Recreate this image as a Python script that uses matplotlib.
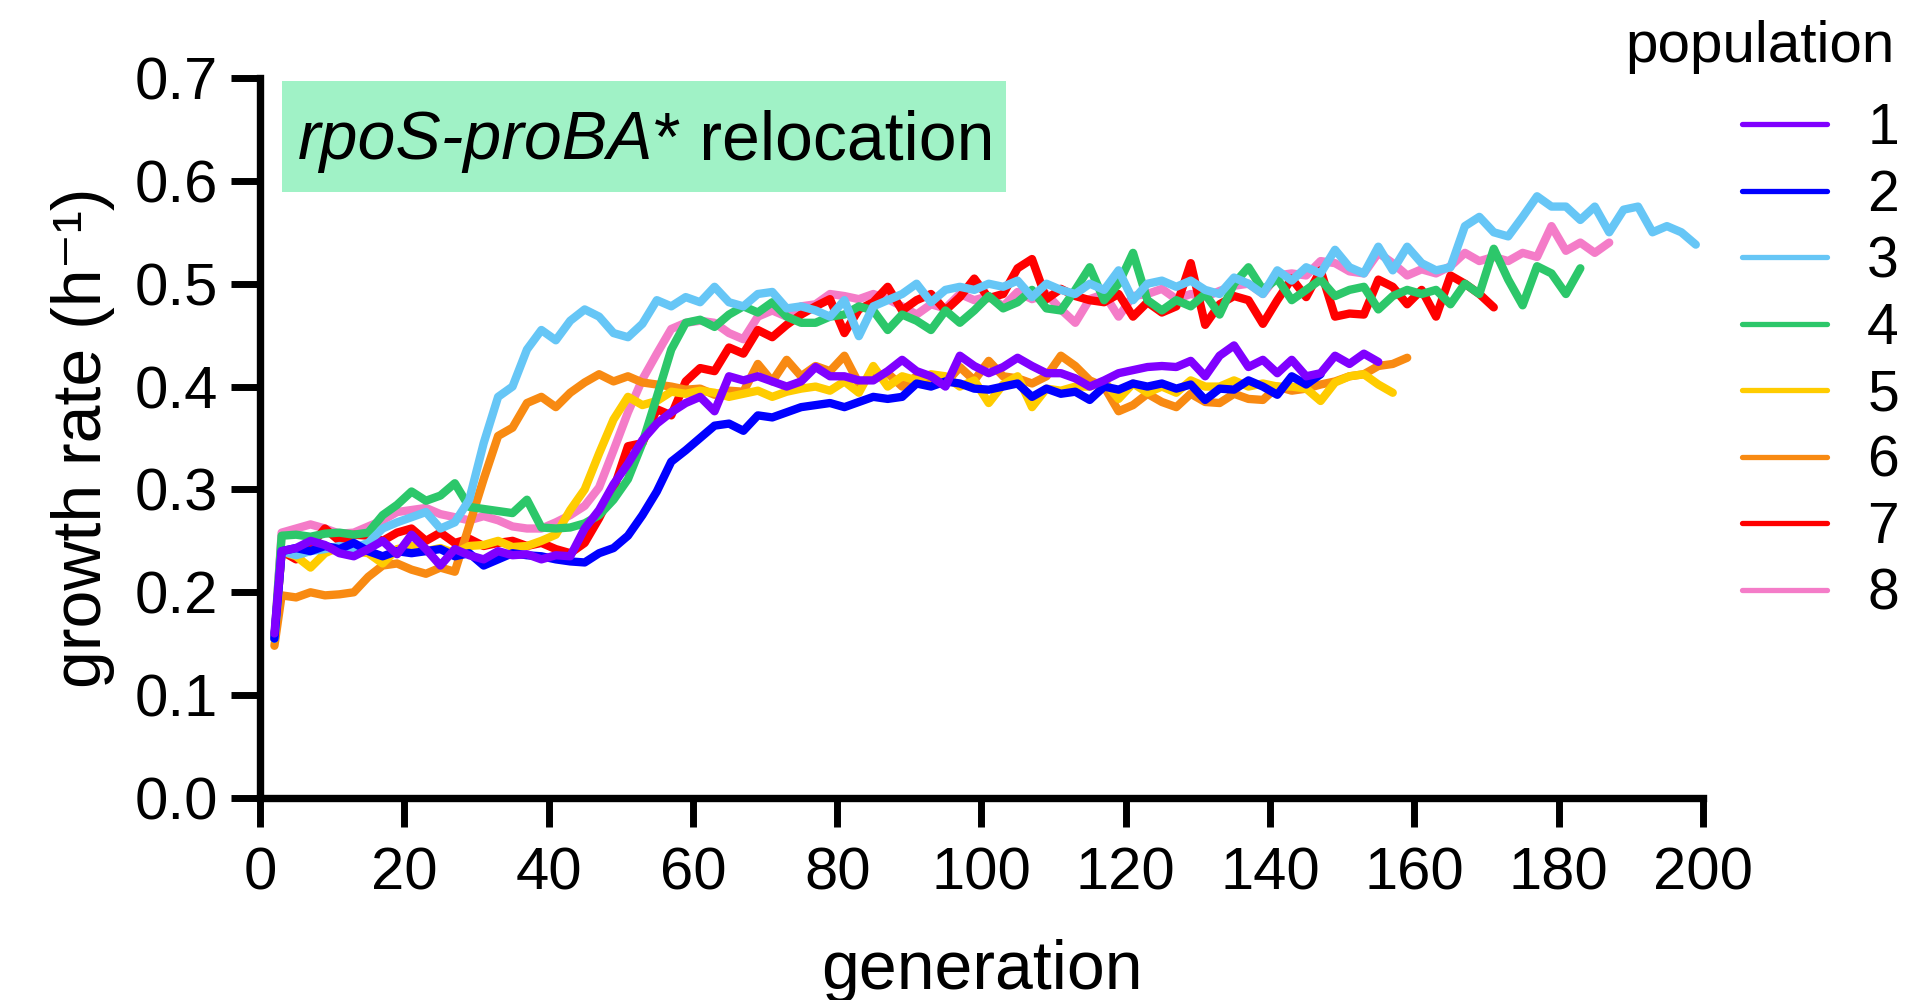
import matplotlib
matplotlib.use("Agg")
import matplotlib.pyplot as plt
from matplotlib.lines import Line2D
from matplotlib.patches import Rectangle
from matplotlib.text import Annotation

plt.rcParams['font.family'] = ['Liberation Sans', 'DejaVu Sans']
plt.rcParams['mathtext.default'] = 'regular'

# generation grid (shared by all populations)
GEN = [2, 3, 5, 7, 9, 11, 13, 15, 17, 19,
       21, 23, 25, 27, 29, 31, 33, 35, 37, 39,
       41, 43, 45, 47, 49, 51, 53, 55, 57, 59,
       61, 63, 65, 67, 69, 71, 73, 75, 77, 79,
       81, 83, 85, 87, 89, 91, 93, 95, 97, 99,
       101, 103, 105, 107, 109, 111, 113, 115, 117, 119,
       121, 123, 125, 127, 129, 131, 133, 135, 137, 139,
       141, 143, 145, 147, 149, 151, 153, 155, 157, 159,
       161, 163, 165, 167, 169, 171, 173, 175, 177, 179,
       181, 183, 185, 187, 189, 191, 193, 195, 197, 199]

LABELS = ['1', '2', '3', '4', '5', '6', '7', '8']
COLORS = ['#8000FF', '#0000FF', '#66C6F6', '#2CC76A',
          '#FFCC00', '#F88A12', '#FF0000', '#F47CC8']

pop1 = [0.160, 0.240, 0.243, 0.250, 0.246, 0.238, 0.235, 0.242, 0.250, 0.237,
        0.256, 0.242, 0.226, 0.242, 0.236, 0.232, 0.240, 0.236, 0.237, 0.232,
        0.236, 0.235, 0.262, 0.280, 0.305, 0.325, 0.348, 0.364, 0.375, 0.384,
        0.390, 0.376, 0.410, 0.406, 0.410, 0.405, 0.400, 0.405, 0.419, 0.410,
        0.410, 0.406, 0.406, 0.415, 0.426, 0.415, 0.410, 0.400, 0.430, 0.420,
        0.413, 0.419, 0.428, 0.420, 0.413, 0.413, 0.408, 0.400, 0.406, 0.413,
        0.416, 0.419, 0.420, 0.419, 0.425, 0.410, 0.430, 0.440, 0.419, 0.426,
        0.413, 0.426, 0.410, 0.413, 0.430, 0.422, 0.432, 0.424]

pop2 = [0.155, 0.240, 0.243, 0.240, 0.245, 0.242, 0.248, 0.240, 0.235, 0.240,
        0.238, 0.240, 0.242, 0.235, 0.238, 0.226, 0.232, 0.238, 0.236, 0.235,
        0.232, 0.230, 0.229, 0.238, 0.243, 0.255, 0.275, 0.298, 0.327, 0.338,
        0.350, 0.362, 0.364, 0.357, 0.372, 0.370, 0.375, 0.380, 0.382, 0.384,
        0.380, 0.385, 0.390, 0.388, 0.390, 0.403, 0.400, 0.405, 0.403, 0.398,
        0.397, 0.400, 0.403, 0.390, 0.398, 0.393, 0.395, 0.387, 0.400, 0.397,
        0.403, 0.400, 0.403, 0.398, 0.402, 0.387, 0.398, 0.397, 0.406, 0.400,
        0.392, 0.410, 0.402, 0.412]

pop3 = [0.155, 0.240, 0.236, 0.240, 0.242, 0.245, 0.243, 0.248, 0.262, 0.268,
        0.273, 0.278, 0.262, 0.268, 0.290, 0.345, 0.390, 0.400, 0.436, 0.455,
        0.445, 0.464, 0.475, 0.468, 0.452, 0.448, 0.461, 0.484, 0.478, 0.487,
        0.482, 0.497, 0.482, 0.478, 0.490, 0.492, 0.476, 0.478, 0.474, 0.468,
        0.484, 0.449, 0.478, 0.484, 0.490, 0.500, 0.482, 0.494, 0.497, 0.494,
        0.500, 0.497, 0.503, 0.487, 0.500, 0.494, 0.490, 0.500, 0.494, 0.513,
        0.484, 0.500, 0.503, 0.497, 0.503, 0.494, 0.490, 0.506, 0.500, 0.490,
        0.513, 0.503, 0.516, 0.510, 0.533, 0.516, 0.510, 0.536, 0.513, 0.536,
        0.520, 0.513, 0.516, 0.556, 0.565, 0.550, 0.546, 0.565, 0.585, 0.575,
        0.575, 0.562, 0.575, 0.550, 0.572, 0.575, 0.550, 0.556, 0.550, 0.538]

pop4 = [0.155, 0.255, 0.256, 0.254, 0.257, 0.258, 0.256, 0.258, 0.275, 0.285,
        0.298, 0.289, 0.294, 0.306, 0.283, 0.281, 0.279, 0.277, 0.290, 0.263,
        0.262, 0.263, 0.267, 0.275, 0.290, 0.310, 0.345, 0.390, 0.436, 0.462,
        0.465, 0.458, 0.470, 0.478, 0.472, 0.482, 0.468, 0.462, 0.462, 0.468,
        0.470, 0.478, 0.474, 0.455, 0.470, 0.464, 0.455, 0.474, 0.462, 0.474,
        0.488, 0.476, 0.482, 0.494, 0.476, 0.474, 0.494, 0.516, 0.484, 0.500,
        0.530, 0.484, 0.474, 0.484, 0.478, 0.490, 0.470, 0.500, 0.516, 0.494,
        0.505, 0.484, 0.494, 0.504, 0.488, 0.494, 0.497, 0.475, 0.488, 0.494,
        0.490, 0.494, 0.480, 0.500, 0.490, 0.534, 0.504, 0.479, 0.517, 0.510,
        0.490, 0.515]

pop5 = [0.155, 0.240, 0.235, 0.224, 0.238, 0.244, 0.240, 0.238, 0.228, 0.242,
        0.245, 0.240, 0.243, 0.238, 0.245, 0.246, 0.250, 0.244, 0.245, 0.250,
        0.256, 0.280, 0.300, 0.335, 0.368, 0.390, 0.382, 0.386, 0.395, 0.393,
        0.396, 0.394, 0.390, 0.393, 0.396, 0.390, 0.395, 0.398, 0.400, 0.396,
        0.405, 0.394, 0.420, 0.400, 0.410, 0.406, 0.412, 0.410, 0.400, 0.406,
        0.384, 0.402, 0.410, 0.380, 0.398, 0.396, 0.400, 0.400, 0.405, 0.388,
        0.403, 0.394, 0.400, 0.394, 0.406, 0.400, 0.400, 0.406, 0.400, 0.403,
        0.400, 0.400, 0.398, 0.386, 0.404, 0.410, 0.412, 0.402, 0.394]

pop6 = [0.148, 0.197, 0.195, 0.200, 0.197, 0.198, 0.200, 0.215, 0.226, 0.228,
        0.222, 0.218, 0.224, 0.220, 0.265, 0.310, 0.352, 0.360, 0.384, 0.390,
        0.380, 0.394, 0.404, 0.412, 0.405, 0.410, 0.404, 0.402, 0.400, 0.397,
        0.398, 0.392, 0.396, 0.395, 0.422, 0.405, 0.426, 0.410, 0.420, 0.415,
        0.430, 0.403, 0.410, 0.413, 0.400, 0.410, 0.406, 0.403, 0.419, 0.406,
        0.425, 0.410, 0.408, 0.403, 0.410, 0.430, 0.420, 0.406, 0.400, 0.376,
        0.382, 0.393, 0.385, 0.380, 0.393, 0.385, 0.384, 0.393, 0.388, 0.387,
        0.400, 0.396, 0.398, 0.402, 0.405, 0.410, 0.412, 0.420, 0.422, 0.428]

pop7 = [0.155, 0.240, 0.232, 0.245, 0.262, 0.250, 0.256, 0.255, 0.250, 0.258,
        0.262, 0.250, 0.258, 0.248, 0.252, 0.245, 0.248, 0.250, 0.245, 0.248,
        0.242, 0.238, 0.248, 0.272, 0.300, 0.342, 0.345, 0.378, 0.372, 0.405,
        0.418, 0.415, 0.438, 0.432, 0.455, 0.448, 0.460, 0.470, 0.478, 0.485,
        0.452, 0.475, 0.482, 0.497, 0.474, 0.484, 0.490, 0.474, 0.487, 0.505,
        0.486, 0.490, 0.515, 0.524, 0.485, 0.495, 0.488, 0.484, 0.482, 0.490,
        0.468, 0.482, 0.472, 0.478, 0.520, 0.460, 0.480, 0.488, 0.484, 0.461,
        0.484, 0.505, 0.487, 0.513, 0.468, 0.471, 0.470, 0.504, 0.497, 0.480,
        0.494, 0.468, 0.508, 0.500, 0.490, 0.477]

pop8 = [0.155, 0.258, 0.262, 0.266, 0.262, 0.257, 0.258, 0.264, 0.270, 0.278,
        0.280, 0.282, 0.276, 0.273, 0.270, 0.274, 0.270, 0.264, 0.262, 0.262,
        0.268, 0.275, 0.284, 0.302, 0.338, 0.375, 0.407, 0.432, 0.456, 0.462,
        0.464, 0.462, 0.452, 0.446, 0.468, 0.474, 0.468, 0.478, 0.480, 0.490,
        0.488, 0.485, 0.490, 0.485, 0.478, 0.470, 0.480, 0.476, 0.490, 0.484,
        0.488, 0.478, 0.492, 0.485, 0.490, 0.475, 0.462, 0.485, 0.490, 0.468,
        0.488, 0.490, 0.495, 0.485, 0.490, 0.487, 0.493, 0.498, 0.500, 0.490,
        0.508, 0.510, 0.508, 0.522, 0.520, 0.512, 0.510, 0.530, 0.520, 0.508,
        0.514, 0.510, 0.517, 0.530, 0.522, 0.526, 0.522, 0.530, 0.526, 0.556,
        0.532, 0.540, 0.530, 0.540]

SERIES = [pop1, pop2, pop3, pop4, pop5, pop6, pop7, pop8]

fig = plt.figure(figsize=(19.06, 10), dpi=100)
ax = fig.add_axes([260 / 1906, 0.202, 1443 / 1906, 0.72])

# draw population 8 first so population 1 ends on top
for i in range(len(SERIES) - 1, -1, -1):
    vals = SERIES[i]
    ax.plot(GEN[:len(vals)], vals, color=COLORS[i], lw=6.0,
            solid_joinstyle='round', solid_capstyle='round', zorder=2 + (8 - i))

ax.set_xlim(0, 200)
ax.set_ylim(0, 0.7)
ax.set_xticks(range(0, 201, 20))
ax.set_yticks([0.0, 0.1, 0.2, 0.3, 0.4, 0.5, 0.6, 0.7])
ax.set_yticklabels(['0.0', '0.1', '0.2', '0.3', '0.4', '0.5', '0.6', '0.7'])
for s in ['top', 'right']:
    ax.spines[s].set_visible(False)
for s in ['left', 'bottom']:
    ax.spines[s].set_linewidth(5.3)
ax.tick_params(axis='both', length=21, width=5.0, labelsize=43)
ax.tick_params(axis='x', pad=14)
ax.tick_params(axis='y', pad=9)

ax.set_xlabel('generation', fontsize=49, labelpad=27)
ax.set_ylabel('growth rate (h\u207b\u00b9)', fontsize=49, labelpad=14)

# annotation box
fig.add_artist(Rectangle((282 / 1906, 0.808), 724 / 1906, 0.111,
                         transform=fig.transFigure, facecolor='#A0F2C6',
                         edgecolor='none', zorder=1))
t1 = fig.text(298 / 1906, 1 - 159 / 1000, 'rpoS-proBA', fontsize=49,
              style='italic', va='baseline', ha='left', zorder=5)
t2 = Annotation('* relocation', xy=(1, 0), xycoords=t1, fontsize=49,
                va='bottom', ha='left', annotation_clip=False, zorder=5)
fig.add_artist(t2)

# legend
fig.text(1895 / 1906, 1 - 47 / 1000, 'population', fontsize=42,
         ha='right', va='center')
handles = [Line2D([], [], color=c, lw=3.8, solid_capstyle='round') for c in COLORS]
leg = fig.legend(handles, LABELS, loc='upper right',
                 bbox_to_anchor=(1899 / 1906, 0.898), frameon=False,
                 fontsize=41, handlelength=1.5, handletextpad=0.7,
                 labelspacing=0.22, borderpad=0, borderaxespad=0)

fig.savefig('out.png', dpi=100)
